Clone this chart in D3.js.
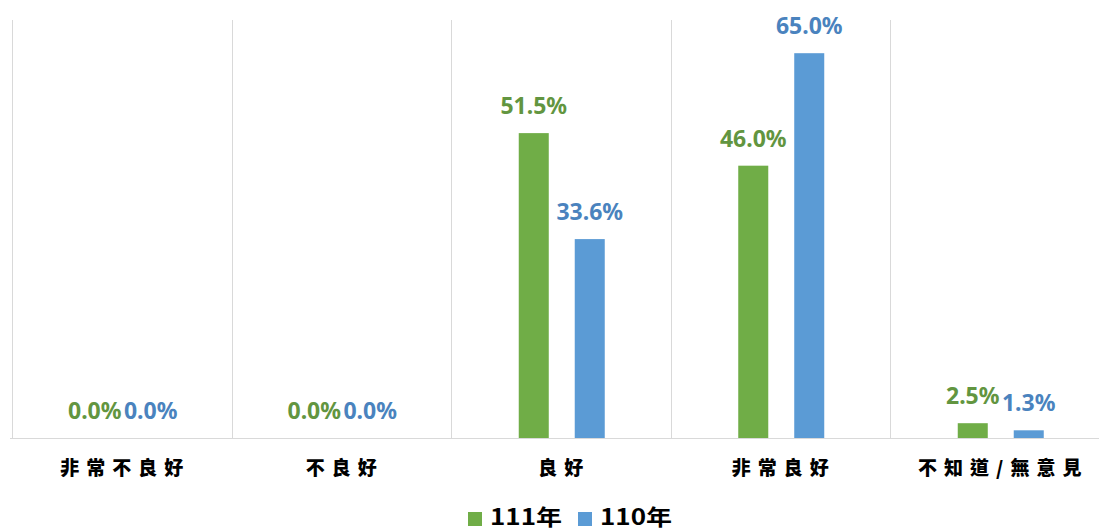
<!DOCTYPE html>
<html>
<head>
<meta charset="utf-8">
<script src="https://cdn.jsdelivr.net/npm/d3@7"></script>
<style>
  html, body { margin: 0; padding: 0; background: #fff; }
  svg { display: block; }
</style>
</head>
<body>
<svg id="chart" width="1099" height="531"></svg>
<script>
const categories = ["非常不良好", "不良好", "良好", "非常良好", "不知道/無意見"];
const seriesNames = ["111年", "110年"];
const values111 = [0.0, 0.0, 51.5, 46.0, 2.5];
const values110 = [0.0, 0.0, 33.6, 65.0, 1.3];
const seriesValues = [values111, values110];
const barColors = ["#70AD47", "#5B9BD5"];
const labelColors = ["#629540", "#4A83BE"];

const svg = d3.select("#chart");
const plotLeft = 12, plotRight = 1109.5, plotTop = 20, baseY = 438;

const x0 = d3.scaleBand().domain(categories).range([plotLeft, plotRight]).padding(0);
const bw = x0.bandwidth();
const x1 = d3.scaleBand().domain(seriesNames).range([bw / 2 - 42, bw / 2 + 44]).paddingInner(0.464).paddingOuter(0);
const y = d3.scaleLinear().domain([0, 70]).range([baseY, 23.6]);

// vertical separators
const bounds = categories.map(c => x0(c)).concat([x0(categories[categories.length - 1]) + bw]);
svg.append("g").selectAll("line").data(bounds).join("line")
  .attr("x1", d => Math.round(d) + 0.5).attr("x2", d => Math.round(d) + 0.5)
  .attr("y1", plotTop).attr("y2", baseY)
  .attr("stroke", "#d9d9d9").attr("stroke-width", 1);

// baseline
svg.append("line").attr("x1", plotLeft - 2).attr("x2", 1099)
  .attr("y1", baseY + 0.5).attr("y2", baseY + 0.5)
  .attr("stroke", "#d9d9d9").attr("stroke-width", 1);

const data = [];
categories.forEach((c, i) => {
  seriesNames.forEach((s, j) => {
    data.push({ cat: c, series: s, si: j, value: seriesValues[j][i] });
  });
});

svg.append("g").selectAll("rect").data(data).join("rect")
  .attr("x", d => x0(d.cat) + x1(d.series))
  .attr("width", x1.bandwidth())
  .attr("y", d => y(d.value))
  .attr("height", d => baseY - y(d.value))
  .attr("fill", d => barColors[d.si]);

svg.append("g").selectAll("text").data(data).join("text")
  .attr("x", d => x0(d.cat) + x1(d.series) + x1.bandwidth() / 2)
  .attr("y", d => y(d.value) - 19)
  .attr("text-anchor", "middle")
  .attr("font-family", "'Noto Sans', 'Open Sans', sans-serif")
  .attr("font-weight", "bold")
  .attr("font-size", 23)
  .attr("fill", d => labelColors[d.si])
  .text(d => d.value.toFixed(1) + "%");

// category axis labels
const xAxis = d3.axisBottom(x0).tickSize(0).tickPadding(0);
const gx = svg.append("g").attr("transform", `translate(0,${baseY})`).call(xAxis);
gx.select(".domain").remove();
gx.selectAll("text")
  .attr("y", 37)
  .attr("dy", 0)
  .attr("dx", "3.5px")
  .attr("font-family", "'Noto Sans CJK TC', 'Noto Sans CJK SC', sans-serif")
  .attr("font-weight", "900")
  .attr("font-size", 19)
  .attr("letter-spacing", "7px")
  .attr("fill", "#000");

// legend
const legend = svg.append("g");
const legendX = [468, 578];
seriesNames.forEach((s, j) => {
  legend.append("rect").attr("x", legendX[j]).attr("y", 512).attr("width", 14).attr("height", 14).attr("fill", barColors[j]);
  legend.append("text").attr("x", legendX[j] + 22).attr("y", 524.5)
    .attr("font-family", "'Noto Sans CJK TC', 'Noto Sans', sans-serif")
    .attr("font-weight", "bold").attr("font-size", 22).attr("fill", "#000")
    .attr("textLength", 72).attr("lengthAdjust", "spacingAndGlyphs")
    .text(s);
});
</script>
</body>
</html>
